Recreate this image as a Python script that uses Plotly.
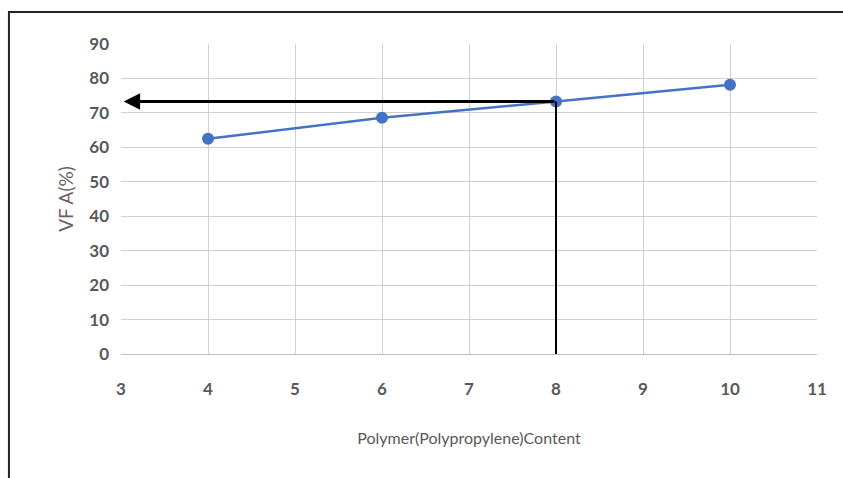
import plotly.graph_objects as go

polymer_content = [4, 6, 8, 10]
vfa_percent = [62.5, 68.6, 73.3, 78.2]
design_content = 8
design_vfa = 73.3
x_ticks = [3, 4, 5, 6, 7, 8, 9, 10, 11]
y_ticks = [0, 10, 20, 30, 40, 50, 60, 70, 80, 90]

fig = go.Figure()
fig.add_trace(go.Scatter(
    x=polymer_content, y=vfa_percent, mode="lines+markers",
    line=dict(color="#4472C4", width=2.5),
    marker=dict(color="#4472C4", size=12),
    showlegend=False,
))
# vertical guide line at design content
fig.add_trace(go.Scatter(
    x=[design_content, design_content], y=[0, design_vfa], mode="lines",
    line=dict(color="black", width=2), showlegend=False,
))
# horizontal arrow to y-axis
fig.add_annotation(
    x=x_ticks[0] + 0.03, y=design_vfa, ax=design_content, ay=design_vfa,
    xref="x", yref="y", axref="x", ayref="y",
    text="", showarrow=True, arrowhead=2, arrowsize=1.1, arrowwidth=3,
    arrowcolor="black",
)
# outer border (left and top visible)
fig.add_shape(type="rect", xref="paper", yref="paper",
              x0=-0.161, x1=1.2, y0=-0.5, y1=1.103,
              line=dict(color="#222222", width=2), layer="below")

tickfont = dict(family="Lato, 'Open Sans', sans-serif", size=17, color="#595959")
fig.update_xaxes(
    range=[3, 11], tickvals=x_ticks, showgrid=True, gridcolor="#d0d0d0", gridwidth=1,
    zeroline=False, showline=True, linecolor="#bfbfbf", linewidth=1,
    tickfont=dict(tickfont, weight="bold"), ticklabelstandoff=20,
    title=dict(text="Polymer(Polypropylene)Content",
               font=dict(family="Lato, 'Open Sans', sans-serif", size=16, color="#595959"),
               standoff=34),
)
fig.update_yaxes(
    range=[0, 90], tickvals=y_ticks, showgrid=True, gridcolor="#d0d0d0", gridwidth=1,
    zeroline=False, showline=False,
    tickfont=dict(tickfont, weight="bold"), ticklabelstandoff=11,
    title=dict(text="VF A(%)",
               font=dict(family="Lato, 'Open Sans', sans-serif", size=19, color="#6f5f5f"),
               standoff=10),
)
fig.update_layout(
    width=843, height=478,
    margin=dict(l=121, r=26, t=44, b=124),
    plot_bgcolor="white", paper_bgcolor="white",
)
fig.write_html("out.html")
